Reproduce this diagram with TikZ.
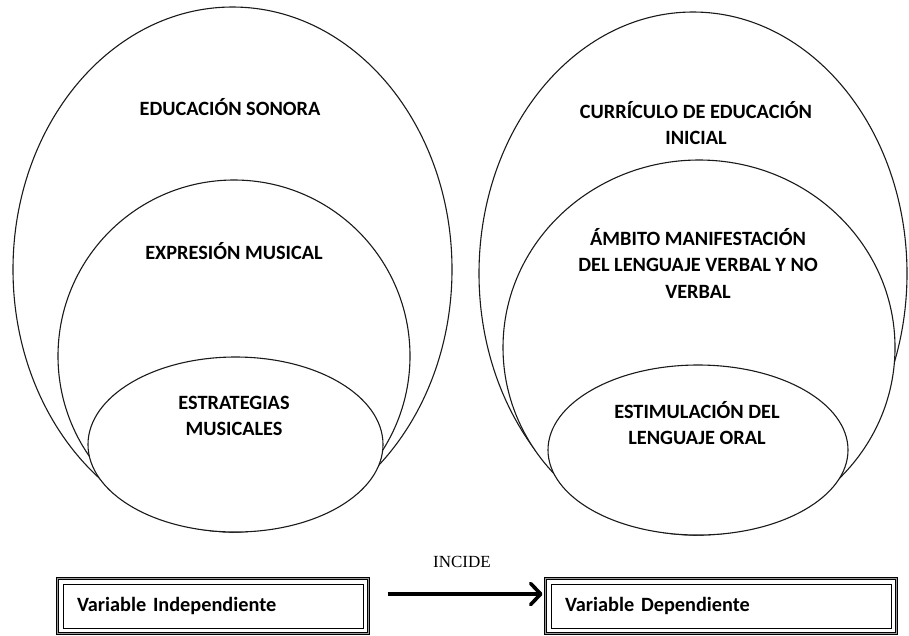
\documentclass[tikz,border=0pt]{standalone}
\usepackage{fontspec}
\setmainfont{Carlito}
\newfontfamily\serifFont{Liberation Serif}
\usepackage{tikz}
\usetikzlibrary{shapes.geometric, positioning, arrows.meta}
\definecolor{colorLine}{HTML}{1a1a1a}
\definecolor{colorFrame}{HTML}{9a9a9a}

\begin{document}
\begin{tikzpicture}[x=1pt, y=-1pt,
        oval/.style={ellipse, draw=colorLine, line width=1.1pt, fill=white, inner sep=0pt},
        tag/.style={font=\fontsize{20.3}{26.5}\selectfont\bfseries, align=center, inner sep=0pt},
        varbox/.style={draw=black, line width=1pt, fill=white, minimum height=44pt, inner xsep=14pt,
            align=left, anchor=center, font=\fontsize{20.3}{24}\selectfont\bfseries},
        frameOut/.style={draw=black, line width=1.1pt, double=colorFrame, double distance=1pt},
        flecha/.style={line width=3.6pt, -{Straight Barb[length=10pt, width=21pt, line width=3.6pt, round]}}]
    \useasboundingbox (0,0) rectangle (909,635);

    % left side
    \node[oval, minimum width=439pt, minimum height=525pt] (sonora) at (232.5,269.5) {};
    \node[oval, minimum width=352pt, minimum height=352pt] (expresion) at (234,356) {};
    \node[oval, minimum width=295pt, minimum height=175pt] (estrategias) at (235.5,444.5) {};
    \node[tag] (tSonora) at (230,107) {EDUCACIÓN SONORA};
    \node[tag] (tExpresion) at (234,251) {EXPRESIÓN MUSICAL};
    \node[tag] (tEstrategias) at (234,416) {ESTRATEGIAS\\MUSICALES};

    % right side
    \node[oval, minimum width=428pt, minimum height=523pt] (curriculo) at (693,273.5) {};
    \node[oval, minimum width=392pt, minimum height=375pt] (ambito) at (699,347.5) {};
    \node[oval, minimum width=300pt, minimum height=170pt] (estimulacion) at (698,450) {};
    \node[tag] (tCurriculo) at (696,123) {CURRÍCULO DE EDUCACIÓN\\INICIAL};
    \node[tag] (tAmbito) at (698,263) {ÁMBITO MANIFESTACIÓN\\DEL LENGUAJE VERBAL Y NO\\VERBAL};
    \node[tag] (tEstimulacion) at (697,423) {ESTIMULACIÓN DEL\\LENGUAJE ORAL};

    % variables
    \node[varbox, text width=272pt] (vi) at (213,606) {Variable Independiente};
    \node[varbox, text width=312pt] (vd) at (721,606) {Variable Dependiente};
    \draw[frameOut] ([shift={(-5,-5)}]vi.north west) rectangle ([shift={(5,5)}]vi.south east);
    \draw[frameOut] ([shift={(-5,-5)}]vd.north west) rectangle ([shift={(5,5)}]vd.south east);

    \coordinate (ini) at ([shift={(24,-12)}]vi.east);
    \coordinate (fin) at ([shift={(-8,-12)}]vd.west);
    \draw[flecha] (ini) -- (fin);
    \node[font=\serifFont\fontsize{17}{20}\selectfont, inner sep=0pt] (incide) at (462,562) {INCIDE};
\end{tikzpicture}
\end{document}
